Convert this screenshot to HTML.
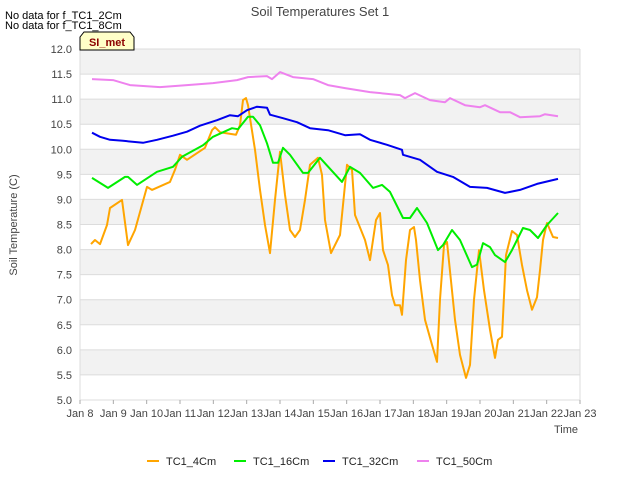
<!DOCTYPE html>
<html><head><meta charset="utf-8"><style>
body{margin:0;background:#fff;font-family:"Liberation Sans",sans-serif;}
svg text{font-family:"Liberation Sans",sans-serif;}
</style></head><body>
<svg id="chart" width="640" height="480" viewBox="0 0 640 480">
<g id="bg"></g><g id="grid"></g><g id="series"></g><g id="axes"></g>
<text x="320" y="16" text-anchor="middle" font-size="13" fill="#444">Soil Temperatures Set 1</text>
<text x="5" y="19" font-size="11" fill="#000">No data for f_TC1_2Cm</text>
<text x="5" y="29" font-size="11" fill="#000">No data for f_TC1_8Cm</text>
<g>
<path d="M80,50 L80,37 L84,32 L130,32 L134,37 L134,50 Z" fill="#ffffc8" stroke="#000" stroke-width="1"/>
<text x="107" y="46" text-anchor="middle" font-size="11" font-weight="bold" fill="#8b0000">SI_met</text>
</g>
<text transform="translate(17,225) rotate(-90)" text-anchor="middle" font-size="11" fill="#444">Soil Temperature (C)</text>
<text x="578" y="433" text-anchor="end" font-size="11" fill="#444">Time</text>
<g id="legend"></g>
</svg>
<script>
const xTickLabels=["Jan 8","Jan 9","Jan 10","Jan 11","Jan 12","Jan 13","Jan 14","Jan 15","Jan 16","Jan 17","Jan 18","Jan 19","Jan 20","Jan 21","Jan 22","Jan 23"];
const yTicks=[5.0,5.5,6.0,6.5,7.0,7.5,8.0,8.5,9.0,9.5,10.0,10.5,11.0,11.5,12.0];
const seriesNames=["TC1_4Cm","TC1_16Cm","TC1_32Cm","TC1_50Cm"];
const seriesColors=["#ffa500","#00ee00","#0000ee","#ee82ee"];
// days since Jan 8
const tc4Days=[.33,.45,.60,.81,.90,1.26,1.44,1.65,2.01,2.16,2.70,2.85,3.00,3.21,3.75,3.96,4.05,4.20,4.68,4.80,4.89,4.98,5.04,5.25,5.40,5.55,5.70,5.85,6.00,6.15,6.30,6.45,6.60,6.75,6.90,7.14,7.26,7.35,7.53,7.80,8.01,8.16,8.25,8.55,8.70,8.88,9.00,9.09,9.24,9.36,9.45,9.60,9.66,9.78,9.90,10.02,10.08,10.20,10.35,10.56,10.71,10.80,10.92,11.01,11.25,11.40,11.58,11.70,11.82,11.97,12.12,12.30,12.45,12.54,12.66,12.78,12.96,13.11,13.26,13.41,13.56,13.71,13.80,13.89,14.01,14.19,14.34];
const tc4Vals=[8.11,8.19,8.11,8.49,8.83,8.99,8.09,8.39,9.25,9.19,9.35,9.59,9.89,9.79,10.03,10.38,10.44,10.34,10.29,10.48,10.98,11.02,10.88,9.99,9.19,8.49,7.93,8.99,9.95,9.09,8.39,8.25,8.39,8.99,9.69,9.83,9.49,8.59,7.93,8.29,9.69,9.59,8.69,8.19,7.79,8.59,8.73,7.99,7.69,7.09,6.89,6.89,6.70,7.79,8.39,8.45,8.19,7.39,6.60,6.10,5.76,7.00,8.09,8.15,6.60,5.90,5.44,5.70,7.00,7.99,7.19,6.40,5.84,6.20,6.26,7.89,8.37,8.29,7.69,7.19,6.80,7.05,7.59,8.19,8.53,8.25,8.23];
const tc16Days=[.36,.84,1.35,1.44,1.71,2.31,2.79,3.06,3.69,3.99,4.56,4.74,5.04,5.19,5.40,5.61,5.79,5.94,6.09,6.30,6.69,6.84,7.20,7.86,8.10,8.40,8.79,9.06,9.30,9.69,9.90,10.11,10.41,10.74,10.89,11.16,11.40,11.76,11.91,12.09,12.30,12.45,12.75,12.96,13.29,13.50,13.74,14.01,14.34];
const tc16Vals=[9.43,9.23,9.45,9.45,9.29,9.55,9.65,9.85,10.08,10.25,10.42,10.40,10.65,10.65,10.48,10.12,9.73,9.73,10.03,9.89,9.53,9.53,9.83,9.35,9.65,9.53,9.23,9.29,9.15,8.63,8.63,8.83,8.53,7.99,8.09,8.39,8.19,7.65,7.70,8.13,8.05,7.89,7.75,7.99,8.43,8.39,8.23,8.49,8.73];
const tc32Days=[.36,.60,.90,1.29,1.89,2.31,2.79,3.21,3.60,4.11,4.50,4.74,5.01,5.31,5.61,5.70,6.09,6.51,6.90,7.44,7.95,8.40,8.70,9.21,9.66,9.69,10.20,10.71,11.19,11.70,12.21,12.75,13.20,13.71,14.34];
const tc32Vals=[10.33,10.25,10.19,10.17,10.13,10.19,10.27,10.35,10.47,10.58,10.68,10.66,10.78,10.85,10.83,10.69,10.62,10.54,10.42,10.38,10.28,10.30,10.19,10.09,9.99,9.89,9.79,9.55,9.45,9.25,9.23,9.13,9.19,9.31,9.41];
const tc50Days=[.36,.99,1.50,2.40,3.21,3.99,4.71,5.04,5.61,5.76,6.00,6.39,6.99,7.44,7.95,8.70,9.60,9.75,10.05,10.50,10.95,11.10,11.55,12.00,12.15,12.60,12.90,13.20,13.80,13.95,14.34];
const tc50Vals=[11.40,11.38,11.28,11.24,11.28,11.32,11.38,11.44,11.46,11.40,11.54,11.44,11.40,11.28,11.22,11.14,11.08,11.02,11.12,10.98,10.94,11.02,10.88,10.84,10.88,10.74,10.74,10.64,10.66,10.70,10.66];

const NS="http://www.w3.org/2000/svg";
const L=80,R=580,T=49,B=400;
const xS=d=>L+(d/15)*(R-L);
const yS=v=>B-(v-5)/7*(B-T);
function mk(tag,attrs,parent){const e=document.createElementNS(NS,tag);for(const k in attrs)e.setAttribute(k,attrs[k]);parent.appendChild(e);return e;}
const bg=document.getElementById('bg'),grid=document.getElementById('grid'),ax=document.getElementById('axes'),ser=document.getElementById('series'),leg=document.getElementById('legend');
let pa=mk('rect',{x:L,y:T,width:R-L,height:B-T,fill:'#fff'},bg);


for(let i=0;i<yTicks.length-1;i++){
  if(i%2===1){let b=mk('rect',{x:L,y:yS(yTicks[i+1]),width:R-L,height:yS(yTicks[i])-yS(yTicks[i+1]),fill:'#f2f2f2'},bg);
  
  }
}
yTicks.forEach(v=>{
  let g=mk('line',{x1:L,x2:R,y1:yS(v),y2:yS(v),stroke:'#dcdcdc','stroke-width':1},grid);
  
  
  let t=mk('text',{x:L-8,y:yS(v)+4,'text-anchor':'end','font-size':11,fill:'#444'},ax);
  t.textContent=v.toFixed(1);
  
  
});
mk('line',{x1:R,x2:R,y1:T,y2:B,stroke:'#dcdcdc'},grid);
mk('line',{x1:L,x2:L,y1:T,y2:B,stroke:'#dcdcdc'},grid);
xTickLabels.forEach((s,i)=>{
  mk('line',{x1:xS(i),x2:xS(i),y1:B,y2:B+4,stroke:'#aaa'},ax);
  let t=mk('text',{x:xS(i),y:B+17,'text-anchor':'middle','font-size':11,fill:'#444'},ax);
  t.textContent=s;
  
  
});
const allDays=[tc4Days,tc16Days,tc32Days,tc50Days],allVals=[tc4Vals,tc16Vals,tc32Vals,tc50Vals];
allDays.forEach((ds,si)=>{
  const d=ds.map((x,i)=>(i?'L':'M')+xS(x).toFixed(1)+','+yS(allVals[si][i]).toFixed(1)).join('');
  let p=mk('path',{d:d,fill:'none',stroke:seriesColors[si],'stroke-width':2,'stroke-linejoin':'round'},ser);
  
  
});
const legX=[147,234,323,417];
seriesNames.forEach((n,i)=>{
  let g=mk('g',{},leg);
  
  
  mk('line',{x1:legX[i],x2:legX[i]+12,y1:461,y2:461,stroke:seriesColors[i],'stroke-width':2},g);
  let t=mk('text',{x:legX[i]+19,y:465,'font-size':11,fill:'#222'},g);
  t.textContent=n;
});
</script>
</body></html>
